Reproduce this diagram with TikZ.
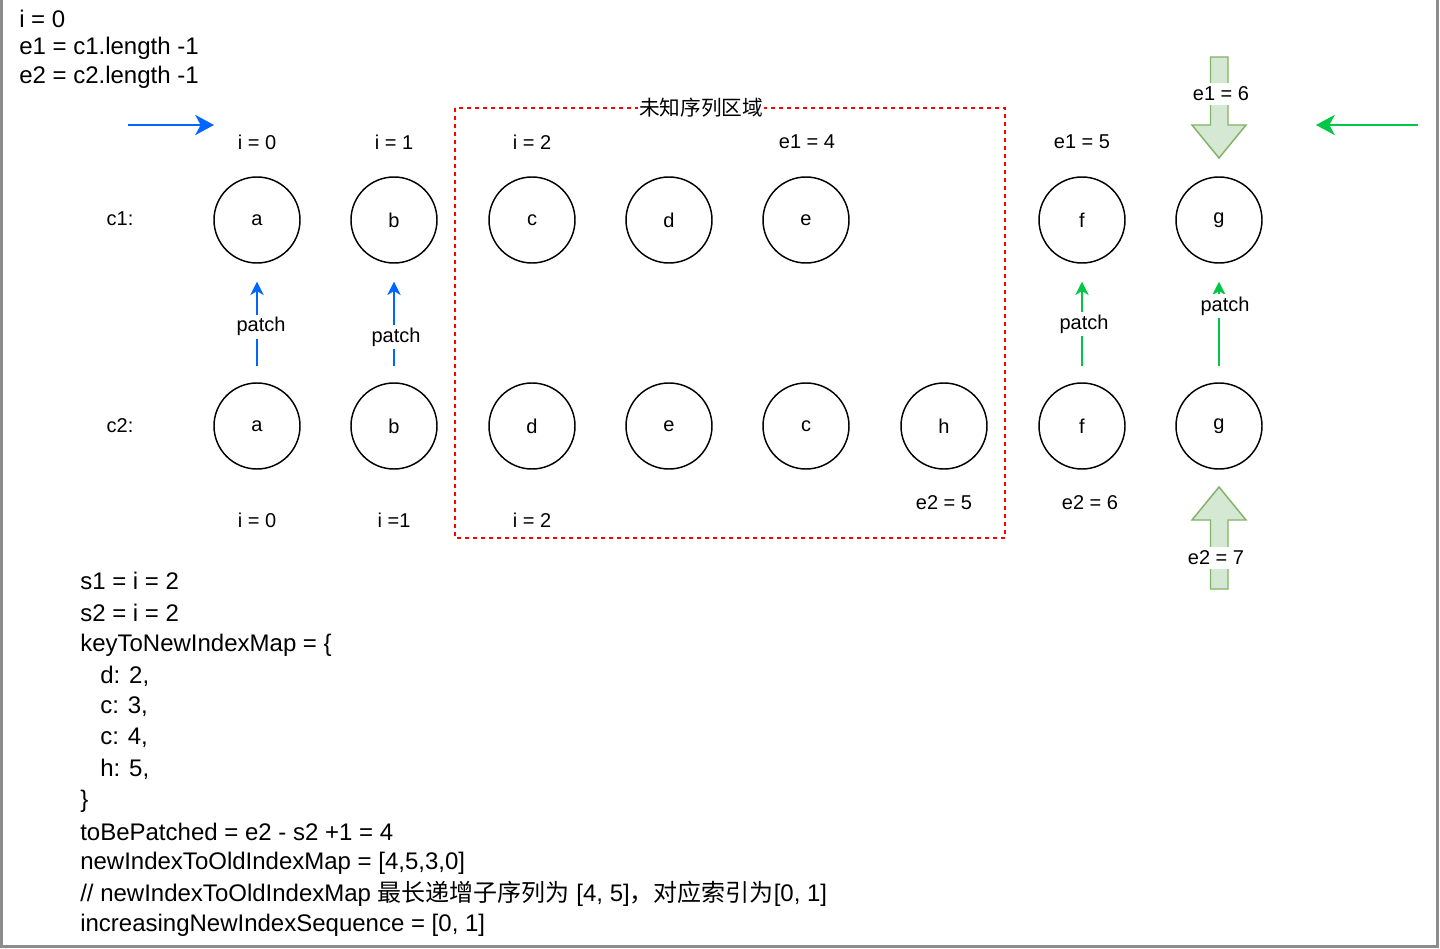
\documentclass[tikz,border=0pt]{standalone}
\usepackage{fontspec}
\setmainfont{Liberation Sans}
\newfontfamily\cjk{Noto Sans CJK SC}
\usetikzlibrary{arrows.meta}
\definecolor{myblue}{RGB}{0,102,255}
\definecolor{mygreen}{RGB}{0,200,70}
\definecolor{gfill}{RGB}{213,232,212}
\definecolor{gdraw}{RGB}{130,179,102}
\definecolor{framegray}{RGB}{140,140,140}
\begin{document}
\begin{tikzpicture}[x=0.75pt,y=-0.75pt,
  circ/.style={circle,draw,line width=1.1pt,minimum size=64.5pt,inner sep=0pt,font=\fontsize{15}{18}\selectfont},
  lbl/.style={font=\fontsize{15}{18}\selectfont,inner sep=1pt},
  big/.style={font=\fontsize{18}{22}\selectfont,anchor=west,inner sep=0pt},
  bluearrow/.style={draw=myblue,line width=2.2pt,-{Stealth[length=14pt,width=15pt,inset=4pt]}},
  greenarrow/.style={draw=mygreen,line width=2.2pt,-{Stealth[length=14pt,width=15pt,inset=4pt]}},
  bpatch/.style={draw=myblue,line width=1.4pt,-{Stealth[length=10pt,width=10pt,inset=3pt]},shorten >=13.5pt,shorten <=12pt},
  gpatch/.style={draw=mygreen,line width=1.4pt,-{Stealth[length=10pt,width=10pt,inset=3pt]},shorten >=13.5pt,shorten <=12pt},
  plabel/.style={fill=white,font=\fontsize{15}{18}\selectfont,inner sep=2pt},
  arrowlabel/.style={fill=white,inner xsep=1pt,inner ysep=3pt,font=\fontsize{15}{18}\selectfont},
  bigarrow/.style={draw=gdraw,fill=gfill,line width=1.1pt,line join=miter}
]
\useasboundingbox (0,0) rectangle (1440,949);
\fill[white] (0,0) rectangle (1440,949);
% frame of the screenshot
\draw[framegray,line width=2.5pt] (1.5,0) -- (1.5,946.5) -- (1437.5,946.5) -- (1437.5,0);

% top-left text
\node[big] (t1) at (19,19) {i = 0};
\node[big] (t2) at (19,48) {e1 = c1.length -1};
\node[big] (t3) at (19,77) {e2 = c2.length -1};

% unknown region
\draw[red,line width=1.1pt,dash pattern=on 3pt off 3pt] (455,108) rectangle (1005,538);
\node[fill=white,inner sep=1pt,font=\cjk\fontsize{15.5}{18}\selectfont] (region) at (701,108) {未知序列区域};

% row labels
\node[lbl] (rc1) at (120,219) {c1:};
\node[lbl] (rc2) at (120,426) {c2:};

% c1 circles
\node[circ] (a1) at (257,220) {a};
\node[circ] (b1) at (394,220) {b};
\node[circ] (c1) at (532,220) {c};
\node[circ] (d1) at (669,220) {d};
\node[circ] (e1) at (806,220) {e};
\node[circ] (f1) at (1082,220) {f};
\node[circ] (g1) at (1219,220) {g};

% c2 circles
\node[circ] (a2) at (257,426) {a};
\node[circ] (b2) at (394,426) {b};
\node[circ] (d2) at (532,426) {d};
\node[circ] (e2) at (669,426) {e};
\node[circ] (c2) at (806,426) {c};
\node[circ] (h2) at (944,426) {h};
\node[circ] (f2) at (1082,426) {f};
\node[circ] (g2) at (1219,426) {g};

% top index labels
\node[lbl] (ti0) at (257,142) {i = 0};
\node[lbl] (ti1) at (394,142) {i = 1};
\node[lbl] (ti2) at (532,142) {i = 2};
\node[lbl] (te14) at (807,142) {e1 = 4};
\node[lbl] (te15) at (1082,142) {e1 = 5};

% bottom index labels
\node[lbl] (bi0) at (257,520) {i = 0};
\node[lbl] (bi1) at (394,520) {i =1};
\node[lbl] (bi2) at (532,520) {i = 2};
\node[lbl] (be25) at (944,503) {e2 = 5};
\node[lbl] (be26) at (1090,503) {e2 = 6};

% direction arrows
\coordinate (bs) at (128,125);
\coordinate (be) at (214,125);
\draw[bluearrow] (bs) -- (be);
\coordinate (gs) at (1418,125);
\coordinate (ge) at (1316,125);
\draw[greenarrow] (gs) -- (ge);

% patch arrows
\draw[bpatch] (a2) -- node[plabel,pos=0.47,xshift=3pt] (pa) {patch} (a1);
\draw[bpatch] (b2) -- node[plabel,pos=0.38,xshift=1.5pt] (pb) {patch} (b1);
\draw[gpatch] (f2) -- node[plabel,pos=0.49,xshift=1.5pt] (pf) {patch} (f1);
\draw[gpatch] (g2) -- node[plabel,pos=0.64,xshift=4.5pt] (pg) {patch} (g1);

% big green arrows
\draw[bigarrow] (1210.5,57) -- (1228,57) -- (1228,125) -- (1246,125) -- (1219,158) -- (1192,125) -- (1210.5,125) -- cycle;
\node[arrowlabel] (e16) at (1221,94) {e1 = 6};
\draw[bigarrow] (1210.5,589) -- (1228,589) -- (1228,520) -- (1246,520) -- (1219,487) -- (1192,520) -- (1210.5,520) -- cycle;
\node[arrowlabel] (e27) at (1216,558) {e2 = 7};

% bottom text
\node[big] (l1) at (80,581) {s1 = i = 2};
\node[big] (l2) at (80,613) {s2 = i = 2};
\node[big] (l3) at (80,645) {keyToNewIndexMap = \{};
\node[big] (l4) at (100,676) {d: 2,};
\node[big] (l5) at (100,707) {c: 3,};
\node[big] (l6) at (100,738) {c: 4,};
\node[big] (l7) at (100,769) {h: 5,};
\node[big] (l8) at (80,801) {\}};
\node[big] (l9) at (80,832) {toBePatched = e2 - s2 +1 = 4};
\node[big] (l10) at (80,863) {newIndexToOldIndexMap = [4,5,3,0]};
\node[big] (l11) at (80,894) {// newIndexToOldIndexMap {\cjk 最长递增子序列为} [4, 5]{\cjk ，对应索引为}[0, 1]};
\node[big] (l12) at (80,925) {increasingNewIndexSequence = [0, 1]};
\end{tikzpicture}
\end{document}
